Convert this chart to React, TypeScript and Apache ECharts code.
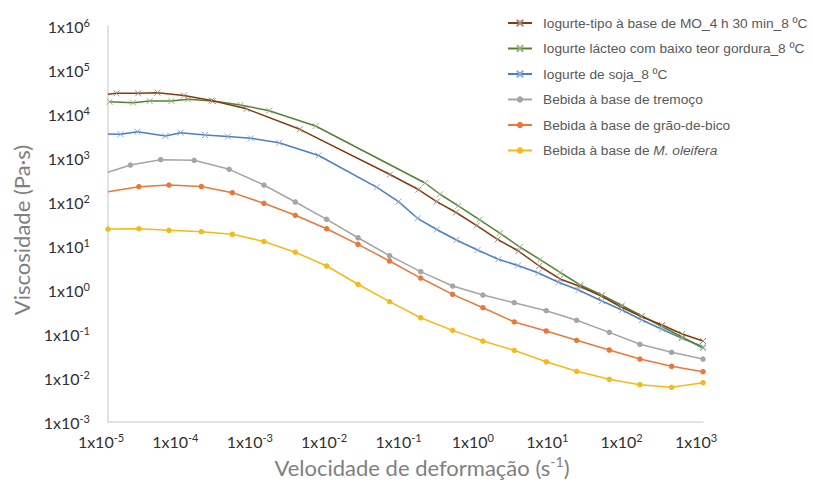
import React, { useEffect, useRef } from "react";
import * as echarts from "echarts";

const seriesNames = [
  "Iogurte-tipo à base de MO_4 h 30 min_8 ºC",
  "Iogurte lácteo com baixo teor gordura_8 ºC",
  "Iogurte de soja_8 ºC",
  "Bebida à base de tremoço",
  "Bebida à base de grão-de-bico",
  "Bebida à base de M. oleifera",
];
const italicPart = "M. oleifera";

const xTickValues = [1e-5, 1e-4, 1e-3, 1e-2, 1e-1, 1e0, 1e1, 1e2, 1e3];
const xTickExp = ["-5", "-4", "-3", "-2", "-1", "0", "1", "2", "3"];
const yTickValues = [1e-3, 1e-2, 1e-1, 1e0, 1e1, 1e2, 1e3, 1e4, 1e5, 1e6];
const yTickExp = ["-3", "-2", "-1", "0", "1", "2", "3", "4", "5", "6"];

const moX = [1e-5, 1.3e-5, 2.54e-5, 4.62e-5, 1.05e-4, 2.47e-4, 7.3e-4, 3.8e-3, 0.0618, 0.149, 0.263, 0.479, 0.908, 1.73, 3.3, 6.27, 12, 22.3, 42.8, 79.4, 148, 281, 526, 1000];
const moY = [28000, 29500, 29500, 30500, 26300, 20300, 13100, 4490, 422, 192, 102, 57.7, 29.2, 14.1, 7.7, 3.51, 1.78, 1.2, 0.731, 0.411, 0.25, 0.16, 0.1, 0.0693];

const lacteoX = [1.05e-5, 2.17e-5, 3.64e-5, 7.13e-5, 1.19e-4, 2.59e-4, 6.05e-4, 1.47e-3, 6.18e-3, 0.183, 0.291, 0.514, 0.984, 1.85, 3.44, 6.46, 12, 22.3, 43.7, 81.3, 151, 281, 521, 1000];
const lacteoY = [19000, 18100, 19700, 19700, 21600, 19700, 16000, 11900, 5340, 270, 150, 82, 39.8, 19.7, 9.49, 4.91, 2.5, 1.3, 0.769, 0.445, 0.256, 0.148, 0.0855, 0.0481];

const sojaX = [1e-5, 1.47e-5, 2.49e-5, 5.93e-5, 9.42e-5, 2.02e-4, 4.08e-4, 8.34e-4, 2.0e-3, 6.79e-3, 0.0413, 0.0805, 0.145, 0.263, 0.483, 0.931, 1.77, 3.25, 6.12, 11.4, 21.2, 43.7, 81.3, 151, 281, 521, 1000];
const sojaY = [3510, 3460, 3960, 3160, 3760, 3330, 3080, 2800, 2230, 1140, 216, 102, 42.6, 23.7, 13.7, 8.11, 4.99, 3.6, 2.43, 1.5, 1.0, 0.562, 0.351, 0.208, 0.128, 0.0798, 0.0514];

const tremocoX = [1e-5, 2.0e-5, 5.1e-5, 1.44e-4, 4.26e-4, 1.25e-3, 3.3e-3, 8.7e-3, 0.023, 0.061, 0.16, 0.43, 1.1, 2.9, 7.8, 20, 55, 142, 378, 1000];
const tremocoY = [473, 693, 915, 887, 553, 243, 100, 40.4, 15.4, 6.02, 2.61, 1.23, 0.769, 0.514, 0.339, 0.205, 0.109, 0.0583, 0.0384, 0.027];

const bebidaX = [1e-5, 2.6e-5, 6.6e-5, 1.8e-4, 4.7e-4, 1.25e-3, 3.3e-3, 8.7e-3, 0.023, 0.061, 0.16, 0.43, 1.1, 2.9, 7.8, 20, 55, 142, 378, 1000];
const graoY = [171, 223, 243, 225, 163, 93.4, 49.9, 24.7, 10.9, 4.56, 1.87, 0.798, 0.396, 0.188, 0.117, 0.072, 0.0433, 0.027, 0.0185, 0.0139];
const oleiferaY = [24.3, 24.7, 22.7, 21.1, 18.5, 12.7, 7.23, 3.51, 1.35, 0.542, 0.234, 0.121, 0.0693, 0.0427, 0.0234, 0.0142, 0.00933, 0.00705, 0.00615, 0.00782];

const lineColors = ["#843c0c", "#548235", "#4a7fc1", "#a5a5a5", "#e8793a", "#f5ba18"];
const markColors = ["#a58878", "#93b27f", "#86abd8", "#a5a5a5", "#e8793a", "#f5ba18"];

const CROSS = "path://M0 0L10 10M10 0L0 10";

function expOf(values: number[], labels: string[], v: number) {
  let best = 0;
  let bd = Infinity;
  values.forEach((t, i) => {
    const d = Math.abs(Math.log10(t) - Math.log10(v));
    if (d < bd) {
      bd = d;
      best = i;
    }
  });
  return labels[best];
}

export default function App() {
  const ref = useRef<HTMLDivElement>(null);
  useEffect(() => {
    if (!ref.current) return;
    const chart = echarts.init(ref.current, undefined, { renderer: "svg" });

    const sets = [
      { x: moX, y: moY, cross: true, hideFirst: true },
      { x: lacteoX, y: lacteoY, cross: true, hideFirst: false },
      { x: sojaX, y: sojaY, cross: true, hideFirst: true },
      { x: tremocoX, y: tremocoY, cross: false, hideFirst: true },
      { x: bebidaX, y: graoY, cross: false, hideFirst: true },
      { x: bebidaX, y: oleiferaY, cross: false, hideFirst: false },
    ];

    const tickFont = "Lato";
    const labelRich = {
      b: { fontSize: 16, fontFamily: tickFont, color: "#303030", lineHeight: 19 },
      s: { fontSize: 11, fontFamily: tickFont, color: "#303030", verticalAlign: "top", lineHeight: 12 },
    };

    const series = sets.map((s, k) => ({
      name: seriesNames[k],
      type: "line",
      data: s.x.map((xv, i) =>
        i === 0 && s.hideFirst ? { value: [xv, s.y[i]], symbol: "none" } : [xv, s.y[i]]
      ),
      symbol: s.cross ? CROSS : "circle",
      symbolSize: s.cross ? 6 : 5.5,
      showSymbol: true,
      lineStyle: { color: lineColors[k], width: 1.5 },
      itemStyle: s.cross
        ? { color: markColors[k], borderColor: markColors[k], borderWidth: 1 }
        : { color: markColors[k], borderColor: markColors[k], borderWidth: 0 },
      emphasis: { disabled: true },
      z: 10 - k,
    }));

    chart.setOption({
      animation: false,
      grid: { left: 108, right: 110, top: 26, bottom: 63, outerBoundsMode: "none" },
      legend: {
        orient: "vertical",
        left: 502,
        top: 10,
        itemWidth: 24,
        itemHeight: 8,
        itemGap: 9.5,
        textStyle: {
          fontFamily: "Liberation Sans",
          fontSize: 13.7,
          lineHeight: 16,
          color: "#595959",
          padding: [0, 0, 0, 6],
          rich: {
            it: { fontFamily: "Liberation Sans", fontSize: 13.7, lineHeight: 16, color: "#595959", fontStyle: "italic" },
          },
        },
        formatter: (name: string) =>
          name.includes(italicPart) ? name.replace(italicPart, `{it|${italicPart}}`) : name,
        data: seriesNames,
      },
      xAxis: {
        type: "log",
        logBase: 10,
        min: 1e-5,
        max: 1e3,
        axisLine: { show: true, lineStyle: { color: "#d9d9d9", width: 1.5 } },
        axisTick: { show: false },
        splitLine: { show: false },
        axisLabel: {
          customValues: xTickValues,
          margin: 10,
          padding: [0, 14, 0, 0],
          formatter: (v: number) => `{b|1x10}{s|${expOf(xTickValues, xTickExp, v)}}`,
          rich: labelRich,
        },
      },
      yAxis: {
        type: "log",
        logBase: 10,
        min: 1e-3,
        max: 1e6,
        axisLine: { show: true, lineStyle: { color: "#d9d9d9", width: 1.5 } },
        axisTick: { show: false },
        splitLine: { show: false },
        axisLabel: {
          customValues: yTickValues,
          margin: 18,
          formatter: (v: number) => `{b|1x10}{s|${expOf(yTickValues, yTickExp, v)}}`,
          rich: labelRich,
        },
      },
      graphic: [
        {
          type: "text",
          x: 21.7,
          y: 230,
          rotation: Math.PI / 2,
          style: {
            text: "Viscosidade (Pa·s)",
            fontFamily: "Lato",
            fontSize: 22,
            fill: "#7f7f7f",
            align: "center",
            verticalAlign: "middle",
          },
        },
        {
          type: "text",
          x: 422,
          y: 467,
          style: {
            text: "{n|Velocidade de deformação (s}{s|-1}{n|)}",
            align: "center",
            verticalAlign: "middle",
            rich: {
              n: { fontFamily: "Lato", fontSize: 22, fill: "#7f7f7f", color: "#7f7f7f", lineHeight: 26 },
              s: { fontFamily: "Lato", fontSize: 14, fill: "#7f7f7f", color: "#7f7f7f", verticalAlign: "top", lineHeight: 15 },
            },
          },
        },
      ],
      series,
    });
    return () => chart.dispose();
  }, []);
  return (
    <div
      ref={ref}
      style={{ position: "fixed", left: 0, top: 0, width: 813, height: 485, background: "#fff" }}
    />
  );
}
